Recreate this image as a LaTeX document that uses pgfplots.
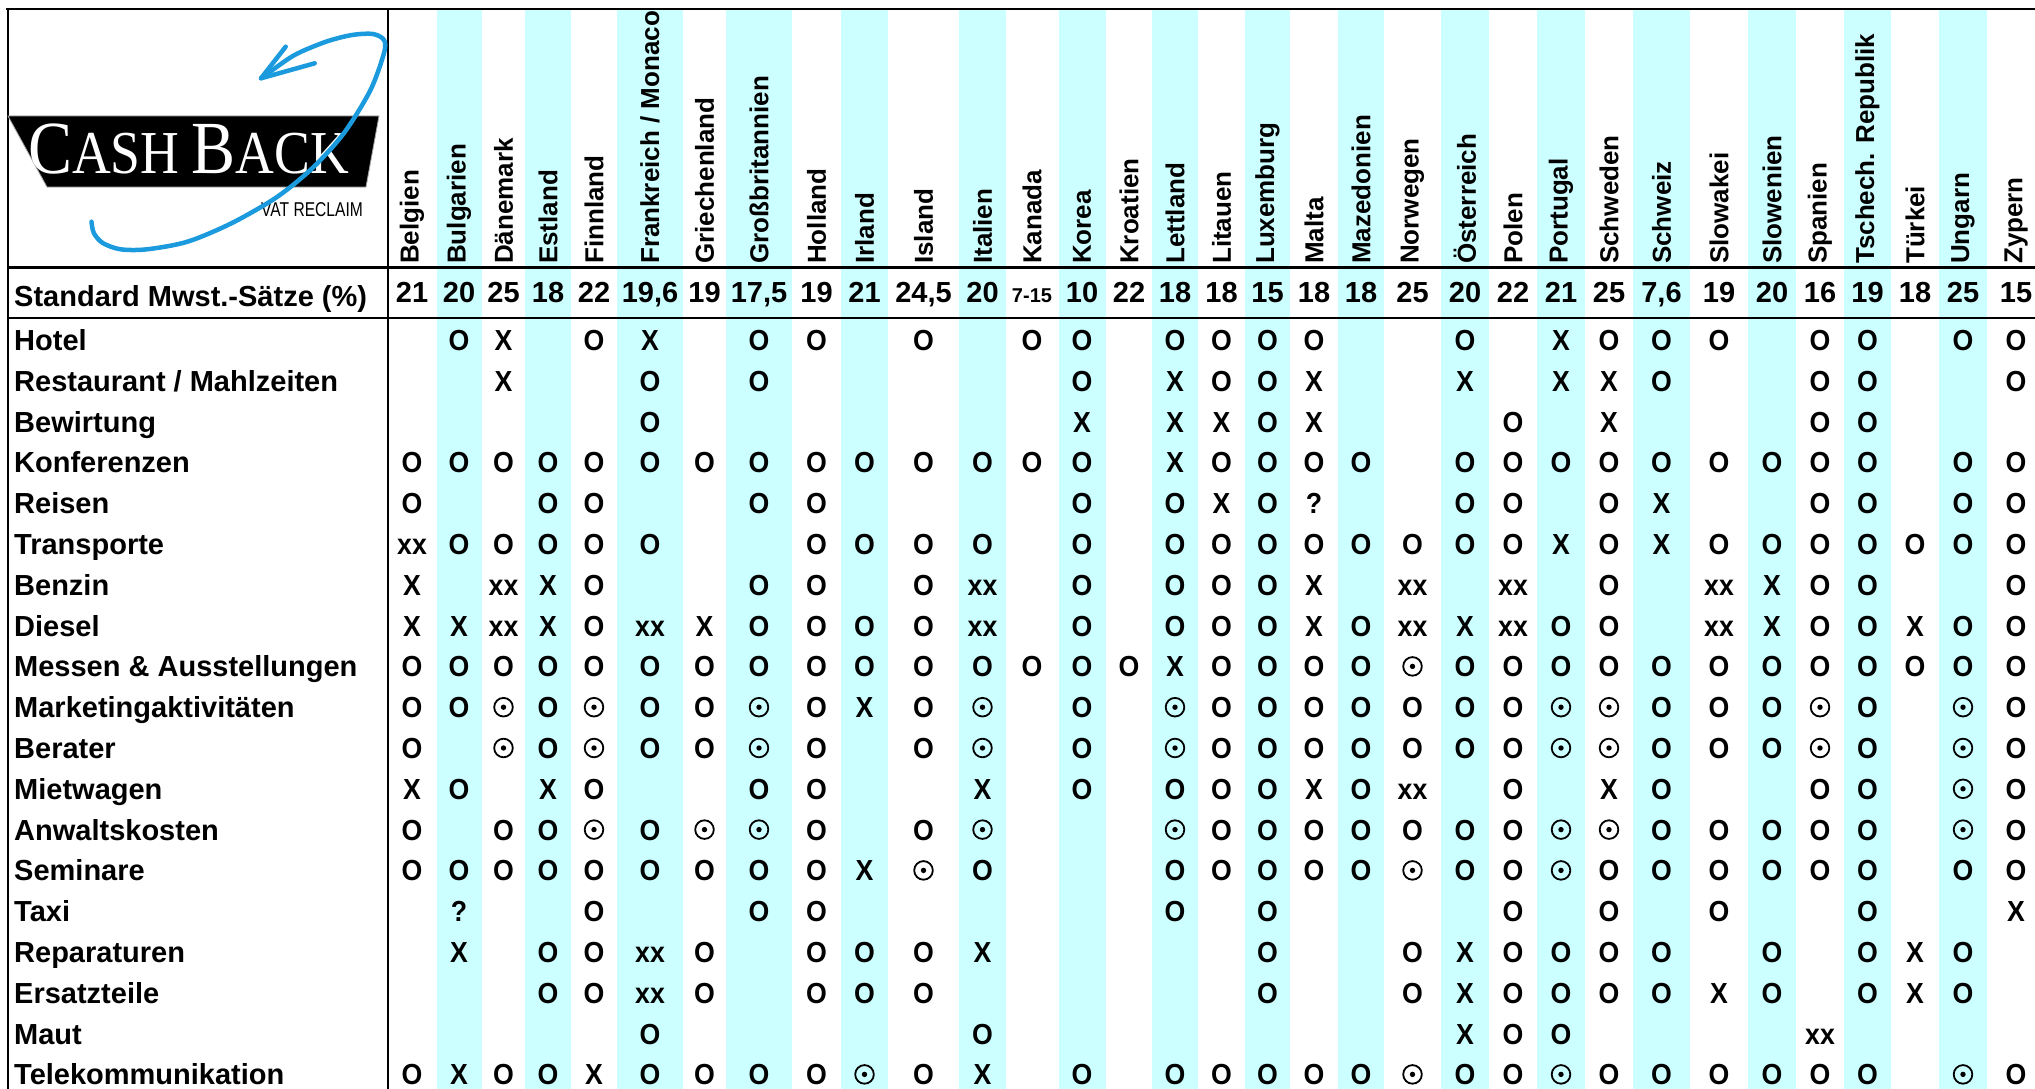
\documentclass[border=0pt]{standalone}
\usepackage{fontspec}
\setmainfont{Liberation Sans}
\newfontfamily\logoserif{Liberation Serif}
\usepackage{pgfplots}
\usepackage{pgfplotstable}
\pgfplotsset{compat=1.18}

\definecolor{stripe}{RGB}{204,255,255}
\definecolor{swoosh}{RGB}{27,155,222}

% 1 px of the reference = 1pt
\newcommand\cellfont{\fontsize{29}{29}\selectfont\bfseries}
\newcommand\headfont{\fontsize{26}{26}\selectfont\bfseries}

% circled dot
\pgfdeclareplotmark{odot}{%
  \pgfpathellipse{\pgfpointorigin}{\pgfqpoint{9.3pt}{0pt}}{\pgfqpoint{0pt}{9.3pt}}%
  \pgfusepathqstroke
  \pgfpathcircle{\pgfpointorigin}{2.7pt}%
  \pgfusepathqfill}

% columns: centre, standard rate, name
\pgfplotstableread[col sep=semicolon]{
cx;rate;name
412;21;Belgien
459;20;Bulgarien
503.5;25;Dänemark
548;18;Estland
594;22;Finnland
650;19,6;Frankreich / Monaco
704.5;19;Griechenland
759;17,5;Großbritannien
816.5;19;Holland
864.5;21;Irland
923.5;24,5;Island
982.5;20;Italien
1032;{};Kanada
1082;10;Korea
1129;22;Kroatien
1175;18;Lettland
1221.5;18;Litauen
1267.5;15;Luxemburg
1314;18;Malta
1361;18;Mazedonien
1412.5;25;Norwegen
1465;20;Österreich
1513;22;Polen
1561;21;Portugal
1609;25;Schweden
1661.5;7,6;Schweiz
1719;19;Slowakei
1772;20;Slowenien
1820;16;Spanien
1867.5;19;Tschech. Republik
1915;18;Türkei
1963;25;Ungarn
2016;15;Zypern
}\countries

\pgfplotstableread[col sep=semicolon]{
y;label
296;Standard Mwst.-Sätze (\%)
340;Hotel
380.8;Restaurant / Mahlzeiten
421.6;Bewirtung
462.4;Konferenzen
503.2;Reisen
544;Transporte
584.8;Benzin
625.6;Diesel
666.4;Messen \& Ausstellungen
707.2;Marketingaktivitäten
748;Berater
788.8;Mietwagen
829.6;Anwaltskosten
870.4;Seminare
911.2;Taxi
952;Reparaturen
992.8;Ersatzteile
1033.6;Maut
1074.4;Telekommunikation
}\rowlabels

% O, X, xx, Q = ?, D = circled dot, n = empty
\pgfplotstableread{
y c1 c2 c3 c4 c5 c6 c7 c8 c9 c10 c11 c12 c13 c14 c15 c16 c17 c18 c19 c20 c21 c22 c23 c24 c25 c26 c27 c28 c29 c30 c31 c32 c33
340    n O X n O X n O O n O n O O n O O O O n n O n X O O O n O O n O O
380.8  n n X n n O n O n n n n n O n X O O X n n X n X X O n n O O n n O
421.6  n n n n n O n n n n n n n X n X X O X n n n O n X n n n O O n n n
462.4  O O O O O O O O O O O O O O n X O O O O n O O O O O O O O O n O O
503.2  O n n O O n n O O n n n n O n O X O Q n n O O n O X n n O O n O O
544    xx O O O O O n n O O O O n O n O O O O O O O O X O X O O O O O O O
584.8  X n xx X O n n O O n O xx n O n O O O X n xx n xx n O n xx X O O n n O
625.6  X X xx X O xx X O O O O xx n O n O O O X O xx X xx O O n xx X O O X O O
666.4  O O O O O O O O O O O O O O O X O O O O D O O O O O O O O O O O O
707.2  O O D O D O O D O X O D n O n D O O O O O O O D D O O O D O n D O
748    O n D O D O O D O n O D n O n D O O O O O O O D D O O O D O n D O
788.8  X O n X O n n O O n n X n O n O O O X O xx n O n X O n n O O n D O
829.6  O n O O D O D D O n O D n n n D O O O O O O O D D O O O O O n D O
870.4  O O O O O O O O O X D O n n n O O O O O D O O D O O O O O O n O O
911.2  n Q n n O n n O O n n n n n n O n O n n n n O n O n O n n O n n X
952    n X n O O xx O n O O O X n n n n n O n n O X O O O O n O n O X O n
992.8  n n n O O xx O n O O O n n n n n n O n n O X O O O O X O n O X O n
1033.6 n n n n n O n n n n n O n n n n n n n n n X O O n n n n xx n n n n
1074.4 O X O O X O O O O D O X n O n O O O O O D O O D O O O O O O n D O
}\cells

\pgfplotsset{
  symcell/.style={scatter, only marks, point meta=explicit symbolic,
    text mark as node=true,
    text mark style={font=\cellfont, anchor=base, yshift=-10.4pt,
      xscale=0.92, inner sep=0pt, text=black},
    scatter/classes={
      O={mark=text, text mark={O}, black},
      X={mark=text, text mark={X}, black},
      xx={mark=text, text mark={xx}, black},
      Q={mark=text, text mark={?}, black},
      D={mark=odot, draw=black, fill=black, line width=1.8pt},
      n={mark=text, text mark={}, black}}},
  labelplot/.style={draw=none, mark=none, point meta=explicit symbolic,
    nodes near coords={\pgfplotspointmeta},
    nodes near coords style={inner sep=0pt, text=black}},
  rule/.style={black, line width=2.5pt, mark=none},
}

\newcommand\col[2]{\addplot[symcell] table[x expr=#1, y=y, meta=#2] {\cells};}
\newcommand\stripe[2]{\addplot[fill=stripe, draw=none, mark=none]
  coordinates {(#1,9) (#2,9) (#2,1089) (#1,1089)} -- cycle;}

\begin{document}
\begin{tikzpicture}
\begin{axis}[
  at={(0pt,0pt)}, anchor=south west,
  width=2035pt, height=1089pt, scale only axis,
  xmin=0, xmax=2035, ymin=0, ymax=1089, y dir=reverse,
  hide axis,
]
% column shading
\stripe{436.6}{482}
\stripe{525}{571}
\stripe{617}{683}
\stripe{726}{792}
\stripe{841}{888}
\stripe{959}{1006}
\stripe{1058.5}{1106}
\stripe{1152}{1198}
\stripe{1245}{1290}
\stripe{1338}{1384}
\stripe{1441}{1489}
\stripe{1537}{1585}
\stripe{1633}{1690}
\stripe{1747.5}{1796}
\stripe{1844}{1891}
\stripe{1939}{1987}

% rules
\addplot[rule] coordinates {(6,9) (2035,9)};
\addplot[rule] coordinates {(8,9) (8,1089)};
\addplot[rule] coordinates {(388,9) (388,1089)};
\addplot[rule] coordinates {(8,267.7) (2035,267.7)};
\addplot[rule] coordinates {(8,318) (2035,318)};

% logo banner
\addplot[fill=black, draw=gray!70, line width=0.8pt, mark=none]
  coordinates {(8,116) (379,116) (366,187) (47,187)} -- cycle;
\node[anchor=base west, inner sep=0pt, text=white, xscale=0.88] at (axis cs:28,174)
  {\logoserif\fontsize{75}{75}\selectfont C\fontsize{61}{61}\selectfont ASH\hspace{14pt}\fontsize{75}{75}\selectfont B\fontsize{61}{61}\selectfont ACK};
\node[anchor=base west, inner sep=0pt, xscale=0.78] at (axis cs:261,216)
  {\fontsize{20}{20}\selectfont VAT RECLAIM};
\addplot[swoosh, line width=4.5pt, smooth, mark=none, line cap=round]
  coordinates {(91.5,221.7) (93.8,233) (102.7,243) (120.5,249.3) (147,249.3)
    (187.5,241.7) (232,223) (277,197) (312.5,168) (344,133) (370.5,90)
    (384,53) (384,40) (373,34) (352,35) (326,41.7) (294.6,55) (268,73.3) (261,78.3)};
\addplot[swoosh, line width=4.5pt, mark=none, line cap=round, line join=round]
  coordinates {(285.7,46.7) (261,78.3) (314.7,63.3)};

% headers, rates, row labels
\addplot[labelplot, nodes near coords style={rotate=90, anchor=west, font=\headfont}]
  table[x=cx, y expr=264, meta=name] {\countries};
\addplot[labelplot, nodes near coords style={anchor=base, font=\cellfont, yshift=-10.4pt}]
  table[x=cx, y expr=292, meta=rate] {\countries};
\addplot[labelplot, nodes near coords style={anchor=base, font=\fontsize{20}{20}\selectfont\bfseries, yshift=-10.4pt}]
  coordinates {(1032,292) [7-15]};
\addplot[labelplot, nodes near coords style={anchor=base west, font=\cellfont, yshift=-10.4pt}]
  table[x expr=14, y=y, meta=label] {\rowlabels};

% cell symbols, one plot per country
\col{412}{c1}
\col{459}{c2}
\col{503.5}{c3}
\col{548}{c4}
\col{594}{c5}
\col{650}{c6}
\col{704.5}{c7}
\col{759}{c8}
\col{816.5}{c9}
\col{864.5}{c10}
\col{923.5}{c11}
\col{982.5}{c12}
\col{1032}{c13}
\col{1082}{c14}
\col{1129}{c15}
\col{1175}{c16}
\col{1221.5}{c17}
\col{1267.5}{c18}
\col{1314}{c19}
\col{1361}{c20}
\col{1412.5}{c21}
\col{1465}{c22}
\col{1513}{c23}
\col{1561}{c24}
\col{1609}{c25}
\col{1661.5}{c26}
\col{1719}{c27}
\col{1772}{c28}
\col{1820}{c29}
\col{1867.5}{c30}
\col{1915}{c31}
\col{1963}{c32}
\col{2016}{c33}
\end{axis}
\pgfresetboundingbox
\path[use as bounding box] (0,0) rectangle (2035pt,1089pt);
\end{tikzpicture}
\end{document}
